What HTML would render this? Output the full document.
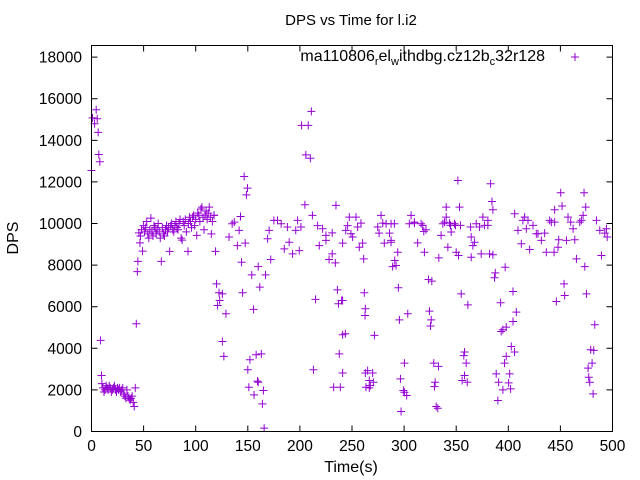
<!DOCTYPE html>
<html><head><meta charset="utf-8"><style>
body{margin:0;background:#fff;}
svg{display:block;font-family:"Liberation Sans",sans-serif;}
</style></head><body>
<svg id="chart" width="640" height="480" viewBox="0 0 640 480">
<rect width="640" height="480" fill="#fff"/>
<text x="351" y="25" font-size="15" text-anchor="middle">DPS vs Time for l.i2</text>
<text x="18" y="238" font-size="16" text-anchor="middle" transform="rotate(-90 18 238)">DPS</text>
<text x="351" y="472" font-size="16" text-anchor="middle">Time(s)</text>
<g id="axes"></g>
<g id="points"></g>
<g>
<text x="545" y="61" font-size="16" text-anchor="end">ma110806<tspan font-size="11" dy="4">r</tspan><tspan dy="-4">el</tspan><tspan font-size="11" dy="4">w</tspan><tspan dy="-4">ithdbg.cz12b</tspan><tspan font-size="11" dy="4">c</tspan><tspan dy="-4">32r128</tspan></text>
<path d="M571 57h8M575 53v8" stroke="#9400d3" stroke-width="1"/>
</g>
<rect x="91.5" y="45.5" width="521" height="386" fill="none" stroke="#000" stroke-width="1"/>
</svg>
<script>
const xTicks=[0,50,100,150,200,250,300,350,400,450,500];
const yTicks=[0,2000,4000,6000,8000,10000,12000,14000,16000,18000];
const times=[0,1,3,4.5,5.5,6.4,7,8,8.7,9.6,10,11,12,13,14,15,16,17,18,19,20,21,22,23,24,25,26,27,28,29,30,31,32,33,34,35,36,37,38,39,40,41,42,43,44,44.5,45.5,46.5,47,48,49,50,51,52,53,54,55,56,57,58,59,60,61,62,63,64,65,66,67,68,69,70,71,72,73,74,75,76,77,78,79,80,81,82,83,84,85,86,87,88,89,90,91,92.6,93,94,95,96,97,98,99,100,101,102,103,104,105,106,107,108,109,110,111,112,113,114,115,116,117.6,117.6,119,120,121,122.4,123,125.6,125.6,127,129,132,135,137,140,141.7,143,144,145,146.5,147.5,148.7,149.7,150,151,152,153.8,155.5,156,158,159.3,160,160,161.5,163,164,165,165.7,167,169,170.5,172,175,178.5,182,185,188,189.7,193,196,197.8,199.4,201,201.6,204.8,205.7,208,210,211,212,213,215,217,218.6,221.8,225,225,228,231,231,232.4,234,234.6,236,237,237.8,238.8,240,241,241,241,241,243.6,244,245.8,247.4,249,250.6,253.8,255.4,257,258.6,260.2,261.2,261.8,262.5,262.8,262.8,263.4,265,266.6,266.6,267.6,269.8,270.5,271.5,274.7,276,277.9,279.5,281,282.7,286,287.5,287.5,287.5,289,290.7,291,292.3,293.9,294.5,295.5,296.5,297.1,299.3,300.3,300.3,302.5,303.5,305,306.7,309.9,309.9,313,316.3,317.9,318.9,319.5,321,323.4,324.3,325.3,326,326.6,328.5,329.1,329.8,330.8,332.3,333,333.3,335.5,337.2,338.8,340.4,340.4,342,343.6,344.5,345.2,348.4,349.3,350,351.6,352.2,353.2,354.1,354.8,355.7,357.3,358,358,359.6,360.6,361.2,363.8,364.4,364.4,366,367.6,369.2,372.4,374,375.6,377.2,380.4,380.4,382,383,384.3,385.2,385.2,386.8,387.5,388.4,390,390.7,392.6,393.2,394.8,394.8,396.4,397,398,398,400.3,401.3,402.2,402.9,404.5,404.5,406,406.1,407.7,409.3,412.5,414,415.7,417.3,418.9,420.5,423.7,426.9,428.5,431.7,434.9,436.5,439.7,441.3,443.9,444.5,444.5,446.1,447.7,448.4,450.3,451.6,453.5,454.1,455.8,457.3,459.9,462.2,463.8,465.4,468.6,470.2,471.8,472.7,473.4,474.3,475,476.6,477.2,478.2,479.1,480.4,481.4,482,483,484.6,487.8,489.4,492.6,494.2,494.9];
const dps=[12550,15080,14800,15470,15040,14380,13320,12970,4380,2690,2300,2100,1900,2000,2200,2100,2000,2200,2100,1900,2000,2100,2200,2000,1900,2100,2000,2100,1900,2000,2100,1800,1700,1600,2000,1700,1600,1500,1600,1700,1400,1200,2100,5180,7690,8180,9550,9070,9400,9700,8670,9900,9600,9800,10100,9500,9300,9700,10260,9600,9400,9900,9800,9500,9700,10000,9600,9300,8180,9800,9500,9400,9700,9900,9600,9800,8660,9900,10000,9700,9600,9900,10100,9800,9700,10000,10200,9300,9200,10100,9900,10200,9600,8660,10000,10300,10100,9800,10300,10400,9900,10200,9430,10500,10400,10100,10700,10790,10300,9700,10400,10600,10200,10500,10790,10300,9500,10100,10400,10390,8660,7100,6060,6670,6300,4330,6620,3610,5660,9350,9990,10070,8940,9670,10340,8140,6670,12260,9060,11380,11700,2970,2130,3450,7530,5870,1760,3690,2420,2370,7930,6940,3730,1330,1970,160,7530,9270,9670,8270,10150,10150,9990,8780,9830,9100,8540,9670,10150,8700,9830,14720,10900,13300,14720,13140,15390,10390,2970,6350,9900,8940,9750,9430,9190,8270,9550,8540,2130,8110,10870,6810,6140,3730,2130,6300,4650,2810,9060,6300,4700,9670,9900,10310,9510,9350,10310,9830,8860,10020,9060,8300,6670,5580,5900,2810,2130,2930,2100,2450,2210,2810,2370,4620,9830,9540,10390,10020,9060,9990,9540,9190,9990,9100,7930,9990,8220,7980,8620,6910,5370,2530,960,1970,3290,1890,1730,5660,9990,10390,10070,10020,9070,9990,9910,9620,8620,9700,7310,5790,5070,5370,7230,3290,2160,2370,1200,1120,3130,8350,9430,9990,10070,10790,10310,8860,10020,9910,9590,9990,9910,8620,12070,8460,10790,9910,6620,2450,3650,2690,3820,3290,2370,6090,9830,8380,9350,8940,9100,9990,9830,8540,10310,9910,10150,9910,8540,11910,11060,10660,8500,7390,7630,2770,1490,2370,6190,4810,2000,4890,3290,7900,3610,5020,2340,2770,2050,4090,5290,6730,3820,10470,5740,9670,9030,10150,10310,9750,10150,8750,9910,9510,9510,9190,9540,8620,10150,10070,8620,10660,10070,6250,8860,9220,11480,10840,7100,6540,9190,10310,10070,9750,9220,8300,10070,10150,10390,11480,7930,10790,6620,3050,2610,2370,3930,3290,1810,3900,5130,10150,9670,8460,9540,9750,9350,7370];
const X0=91.5,X1=612.5,Y0=431.5,Y1=45.5,YMAX=18560;
function xs(t){return X0+(t/500)*(X1-X0);}
function ys(v){return Y0-(v/YMAX)*(Y0-Y1);}
const NS='http://www.w3.org/2000/svg';
const axes=document.getElementById('axes');
let d='';
for(const t of xTicks){const x=xs(t);d+=`M${x} ${Y0}v-6M${x} ${Y1}v6`;
 const tx=document.createElementNS(NS,'text');
 
 
 tx.setAttribute('x',x);tx.setAttribute('y',451);tx.setAttribute('font-size','15.5');tx.setAttribute('text-anchor','middle');tx.textContent=t;axes.appendChild(tx);}
for(const v of yTicks){const y=ys(v);d+=`M${X0} ${y}h6M${X1} ${y}h-6`;
 const tx=document.createElementNS(NS,'text');
 
 
 tx.setAttribute('x',82);tx.setAttribute('y',y+5.5);tx.setAttribute('font-size','15.5');tx.setAttribute('text-anchor','end');tx.textContent=v;axes.appendChild(tx);}
const tk=document.createElementNS(NS,'path');


tk.setAttribute('d',d);tk.setAttribute('stroke','#000');tk.setAttribute('stroke-width','1');axes.appendChild(tk);
const pts=document.getElementById('points');
for(let i=0;i<times.length;i++){
 const x=xs(times[i]),y=ys(dps[i]);
 const p=document.createElementNS(NS,'path');
 
 
 p.setAttribute('d',`M${x-4} ${y}h8M${x} ${y-4}v8`);
 p.setAttribute('stroke','#9400d3');p.setAttribute('stroke-width','1');
 pts.appendChild(p);
}
</script>
</body></html>
